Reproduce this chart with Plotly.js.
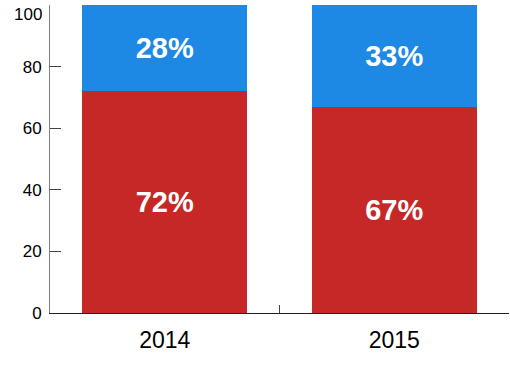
<!DOCTYPE html>
<html>
<head>
<meta charset="utf-8">
<script src="https://cdn.plot.ly/plotly-3.0.1.min.js"></script>
<style>html,body{margin:0;padding:0;background:#fff;}#chart{width:510px;height:365px;}</style>
</head>
<body>
<div id="chart"></div>
<script>
const years = ["2014", "2015"];
const redValues = [72, 67];
const blueValues = [28, 33];
const yTicks = [0, 20, 40, 60, 80, 100];

const labelFont = {family: "Liberation Sans, Arial, sans-serif", size: 29, color: "#ffffff", weight: "bold"};
const topTick = yTicks[yTicks.length - 1];

const traces = [
  {
    type: "bar", x: years, y: redValues, name: "red",
    marker: {color: "#c62828", line: {width: 0}},
    width: 0.72,
    text: redValues.map(v => v + "%"),
    textposition: "inside", insidetextanchor: "middle",
    textfont: labelFont, hoverinfo: "none", cliponaxis: false
  },
  {
    type: "bar", x: years, y: blueValues, name: "blue",
    marker: {color: "#1e88e5", line: {width: 0}},
    width: 0.72,
    text: blueValues.map(v => v + "%"),
    textposition: "inside", insidetextanchor: "middle",
    textfont: labelFont, hoverinfo: "none", cliponaxis: false
  }
];

const layout = {
  width: 510, height: 365,
  margin: {l: 50, r: 1, t: 5, b: 52},
  barmode: "stack",
  showlegend: false,
  paper_bgcolor: "#ffffff", plot_bgcolor: "#ffffff",
  font: {family: "Liberation Sans, Arial, sans-serif", color: "#000"},
  xaxis: {
    type: "category", range: [-0.5, 1.5],
    showgrid: false, zeroline: false,
    showline: true, linecolor: "#222", linewidth: 1,
    ticks: "inside", tickson: "boundaries", ticklen: 8, tickcolor: "#444", tickwidth: 1,
    tickfont: {size: 23, color: "#000"},
    ticklabelstandoff: 6
  },
  yaxis: {
    range: [0, 100], tickvals: yTicks,
    ticktext: yTicks.map(v => v === topTick ? "" : String(v)),
    showgrid: false, zeroline: false,
    showline: true, linecolor: "#808080", linewidth: 1,
    ticks: "inside", ticklen: 11, tickcolor: "#444", tickwidth: 1,
    tickfont: {size: 17, color: "#000"},
    ticklabelstandoff: 4
  },
  annotations: [{
    xref: "paper", yref: "y", x: 0, y: topTick,
    text: String(topTick), showarrow: false,
    xanchor: "right", yanchor: "top", xshift: -6, yshift: 2,
    font: {size: 17, color: "#000"}
  }]
};

Plotly.newPlot("chart", traces, layout, {staticPlot: true, displayModeBar: false});
</script>
</body>
</html>
